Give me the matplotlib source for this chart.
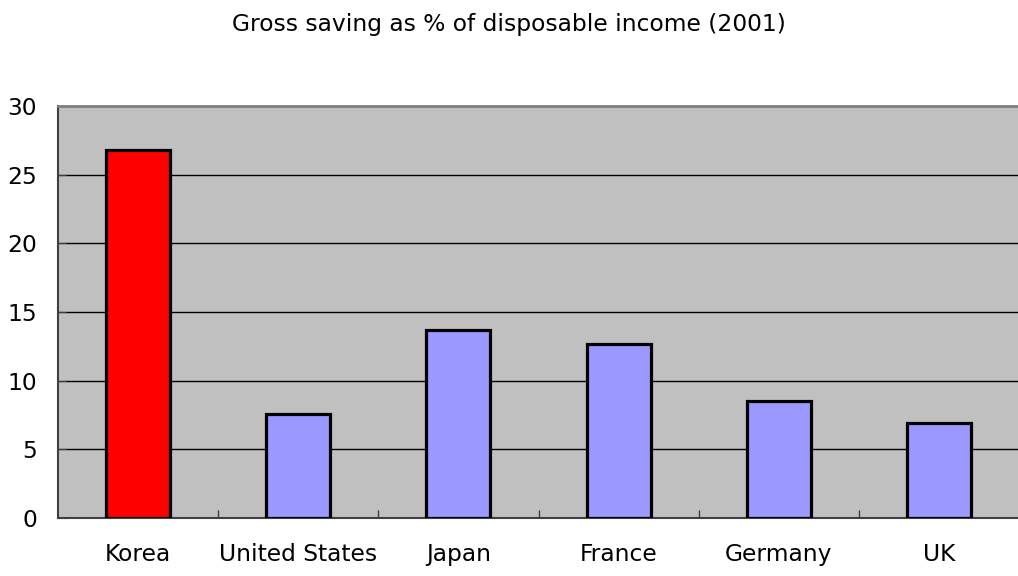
import matplotlib
matplotlib.use("agg")
import matplotlib.pyplot as plt

countries = ["Korea", "United States", "Japan", "France", "Germany", "UK"]
saving = [26.8, 7.6, 13.7, 12.65, 8.55, 6.9]
colors = ["#FF0000", "#9999FF", "#9999FF", "#9999FF", "#9999FF", "#9999FF"]
yticks = [0, 5, 10, 15, 20, 25, 30]

plt.rcParams["font.family"] = "DejaVu Sans"
fontsize = 16.8

fig = plt.figure(figsize=(10.18, 5.76), dpi=100)
ax = fig.add_axes([0.057, 0.1007, 0.944, 0.7153])
ax.set_facecolor("#C0C0C0")

x = list(range(len(countries)))
ax.bar(x, saving, width=0.4, color=colors, edgecolor="black", linewidth=2.3, zorder=3)

ax.set_xlim(-0.5, len(countries) - 0.5)
ax.set_ylim(0, 30)
ax.set_yticks(yticks)
ax.set_yticklabels([str(t) for t in yticks], fontsize=fontsize)
ax.yaxis.grid(True, color="black", linewidth=1, zorder=1)
ax.set_axisbelow(True)

# category labels centered, ticks between categories
ax.set_xticks(x)
ax.set_xticklabels(countries, fontsize=fontsize)
ax.tick_params(axis="x", which="major", length=0, pad=18)
ax.set_xticks([i + 0.5 for i in x[:-1]], minor=True)
ax.tick_params(axis="x", which="minor", direction="in", length=6, color="#404040", width=1)
ax.tick_params(axis="y", direction="in", length=6, color="#404040", pad=15)

for side in ["left", "bottom"]:
    ax.spines[side].set_color("#404040")
    ax.spines[side].set_linewidth(1.5)
ax.spines["top"].set_color("#808080")
ax.spines["top"].set_linewidth(2)
ax.spines["right"].set_visible(False)

fig.text(0.5, 0.958, "Gross saving as % of disposable income (2001)",
         ha="center", va="center", fontsize=fontsize)

plt.savefig("out.png", dpi=100)
